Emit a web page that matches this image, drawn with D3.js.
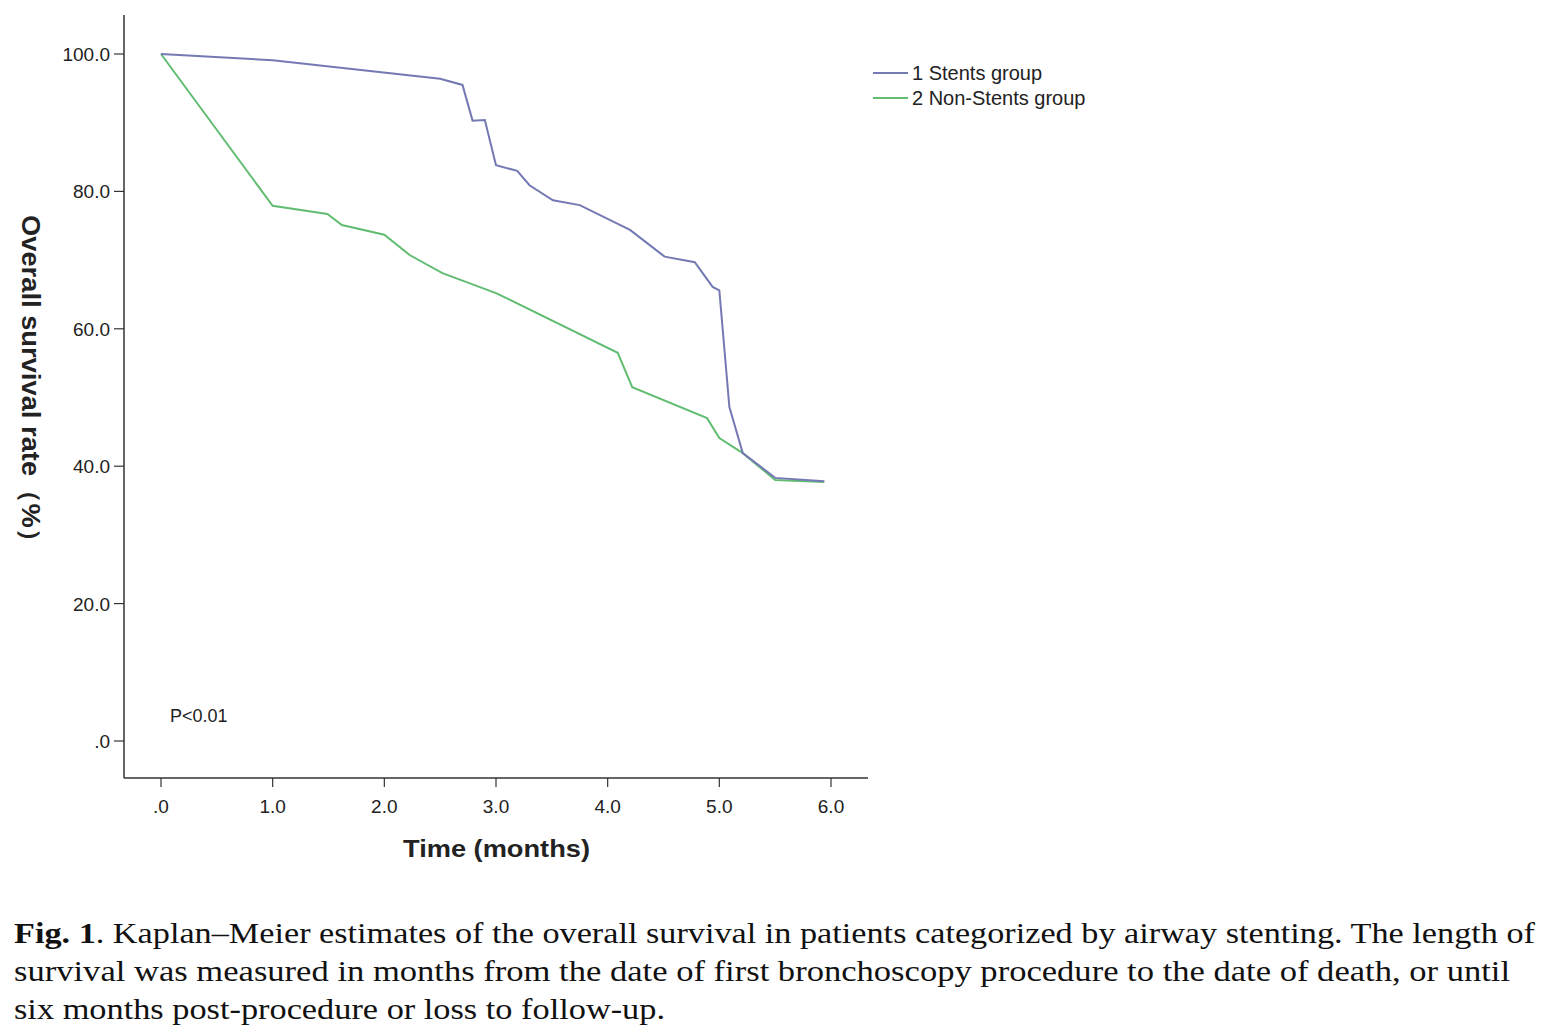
<!DOCTYPE html>
<html>
<head>
<meta charset="utf-8">
<script src="https://cdn.jsdelivr.net/npm/d3@7"></script>
<style>
  body { margin: 0; background: #fff; }
  svg { display: block; }
</style>
</head>
<body>
<svg id="chart" width="1541" height="1035"></svg>
<script>
// Kaplan-Meier curves (time in months, survival %)
const stentsTime = [0, 1, 2.5, 2.7, 2.79, 2.9, 3.0, 3.19, 3.3, 3.51, 3.75, 4.2, 4.51, 4.78, 4.94, 5.0, 5.09, 5.21, 5.5, 5.94];
const stentsRate = [100, 99.1, 96.4, 95.5, 90.3, 90.4, 83.8, 83.0, 80.9, 78.7, 78.0, 74.4, 70.5, 69.7, 66.1, 65.6, 48.6, 41.9, 38.3, 37.8];
const nonTime = [0, 1, 1.49, 1.62, 2.0, 2.23, 2.52, 3.0, 4.09, 4.22, 4.89, 5.0, 5.21, 5.5, 5.94];
const nonRate = [100, 77.9, 76.7, 75.1, 73.7, 70.7, 68.1, 65.2, 56.5, 51.5, 47.0, 44.1, 41.9, 38.0, 37.7];
const xTicks = [0, 1, 2, 3, 4, 5, 6];
const yTicks = [0, 20, 40, 60, 80, 100];
const legendLabels = ["1 Stents group", "2 Non-Stents group"];
const colors = ["#7479b3", "#62bd72"];

const svg = d3.select("#chart");
const font = "Liberation Sans, Arial, sans-serif";

const x = d3.scaleLinear().domain([0, 6]).range([161, 831]);
const y = d3.scaleLinear().domain([0, 100]).range([741, 54]);
const fmt = v => v === 0 ? ".0" : v.toFixed(1);

// axes lines
svg.append("line").attr("x1", 124).attr("x2", 124).attr("y1", 15).attr("y2", 778)
  .attr("stroke", "#333").attr("stroke-width", 1.5);
svg.append("line").attr("x1", 124).attr("x2", 868).attr("y1", 778).attr("y2", 778)
  .attr("stroke", "#333").attr("stroke-width", 1.5);

// y ticks
yTicks.forEach(v => {
  svg.append("line").attr("x1", 114).attr("x2", 124).attr("y1", y(v)).attr("y2", y(v))
    .attr("stroke", "#333").attr("stroke-width", 1.2);
  svg.append("text").attr("x", 110).attr("y", y(v) + 7).attr("text-anchor", "end")
    .attr("font-family", font).attr("font-size", 19).attr("fill", "#222").text(fmt(v));
});
// x ticks
xTicks.forEach(v => {
  svg.append("line").attr("x1", x(v)).attr("x2", x(v)).attr("y1", 778).attr("y2", 787)
    .attr("stroke", "#333").attr("stroke-width", 1.2);
  svg.append("text").attr("x", x(v)).attr("y", 813).attr("text-anchor", "middle")
    .attr("font-family", font).attr("font-size", 19).attr("fill", "#222").text(fmt(v));
});

// axis titles
svg.append("text").attr("x", 403).attr("y", 857)
  .attr("font-family", font).attr("font-size", 24).attr("font-weight", "bold").attr("fill", "#222")
  .attr("textLength", 187).attr("lengthAdjust", "spacingAndGlyphs")
  .text("Time (months)");
svg.append("text").attr("transform", "translate(22,215) rotate(90)")
  .attr("font-family", font).attr("font-size", 25).attr("font-weight", "bold").attr("fill", "#222")
  .attr("textLength", 340).attr("lengthAdjust", "spacingAndGlyphs")
  .text("Overall survival rate（%）");

svg.append("text").attr("x", 170).attr("y", 722).attr("font-family", font).attr("font-size", 18)
  .attr("fill", "#222").text("P<0.01");

// curves
const line = d3.line().x(d => x(d[0])).y(d => y(d[1]));
[[nonTime, nonRate], [stentsTime, stentsRate]].forEach(([t, r], i) => {
  svg.append("path").datum(t.map((d, j) => [d, r[j]]))
    .attr("fill", "none").attr("stroke", colors[1 - i]).attr("stroke-width", 2).attr("d", line);
});

// legend
legendLabels.forEach((lab, i) => {
  const ly = 73 + i * 25;
  svg.append("line").attr("x1", 873).attr("x2", 908).attr("y1", ly).attr("y2", ly)
    .attr("stroke", colors[i]).attr("stroke-width", 2);
  svg.append("text").attr("x", 912).attr("y", ly + 7).attr("font-family", font).attr("font-size", 20)
    .attr("fill", "#222").text(lab);
});

// caption
const cap = svg.append("g").attr("font-family", "Liberation Serif, Times New Roman, serif")
  .attr("font-size", 29).attr("fill", "#111");
const l1 = cap.append("text").attr("x", 14).attr("y", 943)
  .attr("textLength", 1521).attr("lengthAdjust", "spacingAndGlyphs");
l1.append("tspan").attr("font-weight", "bold").text("Fig. 1");
l1.append("tspan").text(".  Kaplan–Meier estimates of the overall survival in patients categorized by airway stenting. The length of");
cap.append("text").attr("x", 14).attr("y", 981)
  .attr("textLength", 1496).attr("lengthAdjust", "spacingAndGlyphs")
  .text("survival was measured in months from the date of first bronchoscopy procedure to the date of death, or until");
cap.append("text").attr("x", 14).attr("y", 1019)
  .attr("textLength", 651).attr("lengthAdjust", "spacingAndGlyphs")
  .text("six months post-procedure or loss to follow-up.");
</script>
</body>
</html>
